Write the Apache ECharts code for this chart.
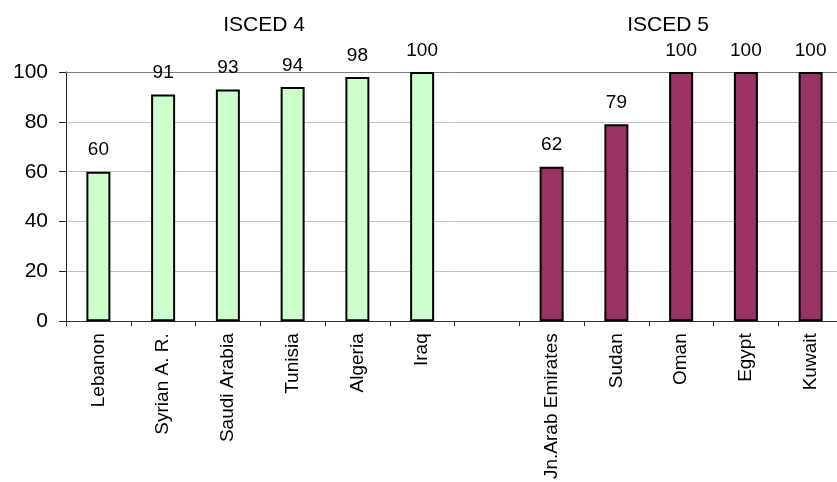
<!DOCTYPE html>
<html>
<head>
<meta charset="utf-8">
<script src="https://cdn.jsdelivr.net/npm/echarts@6/dist/echarts.min.js"></script>
<style>
  html, body { margin: 0; padding: 0; background: #fff; overflow: hidden; }
  #chart { width: 843px; height: 482px; }
</style>
</head>
<body>
<div id="chart"></div>
<script>
// Countries by programme level; the empty slot separates the two groups
const isced4Countries = ['Lebanon', 'Syrian A. R.', 'Saudi Arabia', 'Tunisia', 'Algeria', 'Iraq'];
const isced5Countries = ['Jn.Arab Emirates', 'Sudan', 'Oman', 'Egypt', 'Kuwait'];
const isced4Values = [60, 91, 93, 94, 98, 100];
const isced5Values = [62, 79, 100, 100, 100];
const yTicks = [0, 20, 40, 60, 80, 100];
const groupTitles = ['ISCED 4', 'ISCED 5'];

const categories = [...isced4Countries, '', ...isced5Countries];
const gapSlots = categories.length - isced4Countries.length - isced5Countries.length;
const isced4Data = [...isced4Values, ...new Array(gapSlots + isced5Countries.length).fill(null)];
const isced5Data = [...new Array(isced4Countries.length + gapSlots).fill(null), ...isced5Values];

const FONT = '"Liberation Sans", Arial, sans-serif';

const chart = echarts.init(document.getElementById('chart'), null, { renderer: 'canvas' });

const valueLabel = {
  show: true,
  position: 'top',
  distance: 12,
  color: '#000',
  fontFamily: FONT,
  fontSize: 19
};

chart.setOption({
  animation: false,
  backgroundColor: '#fff',
  title: [
    {
      text: groupTitles[0],
      left: 259, top: 10, textAlign: 'center',
      textStyle: { fontFamily: FONT, fontSize: 21, fontWeight: 'normal', color: '#000' }
    },
    {
      text: groupTitles[1],
      left: 663, top: 10, textAlign: 'center',
      textStyle: { fontFamily: FONT, fontSize: 21, fontWeight: 'normal', color: '#000' }
    }
  ],
  grid: { left: 66, right: 0, top: 72, bottom: 160, containLabel: false },
  xAxis: [
    {
      type: 'category',
      data: categories,
      position: 'bottom',
      axisLine: { show: true, lineStyle: { color: '#303030', width: 1 } },
      axisTick: { show: true, alignWithLabel: false, length: 5, lineStyle: { color: '#303030' } },
      axisLabel: {
        rotate: 90,
        interval: 0,
        margin: 12,
        color: '#000',
        fontFamily: FONT,
        fontSize: 19
      },
      splitLine: { show: false }
    },
    {
      type: 'category',
      data: categories,
      position: 'top',
      axisLine: { show: true, lineStyle: { color: '#808080', width: 1 } },
      axisTick: { show: false },
      axisLabel: { show: false },
      splitLine: { show: false }
    }
  ],
  yAxis: {
    type: 'value',
    min: yTicks[0],
    max: yTicks[yTicks.length - 1],
    interval: yTicks[1] - yTicks[0],
    axisLine: { show: true, lineStyle: { color: '#202020', width: 1 } },
    axisTick: { show: true, length: 7, lineStyle: { color: '#202020' } },
    axisLabel: {
      margin: 18,
      color: '#000',
      fontFamily: FONT,
      fontSize: 21
    },
    splitLine: { show: true, lineStyle: { color: '#c0c0c0', width: 1 } }
  },
  series: [
    {
      name: groupTitles[0],
      type: 'bar',
      data: isced4Data,
      barWidth: 24,
      barGap: '-100%',
      itemStyle: { color: '#ccffcc', borderColor: '#000', borderWidth: 2 },
      label: valueLabel
    },
    {
      name: groupTitles[1],
      type: 'bar',
      data: isced5Data,
      barWidth: 24,
      barGap: '-100%',
      itemStyle: { color: '#993366', borderColor: '#000', borderWidth: 2 },
      label: valueLabel
    }
  ]
});
</script>
</body>
</html>
